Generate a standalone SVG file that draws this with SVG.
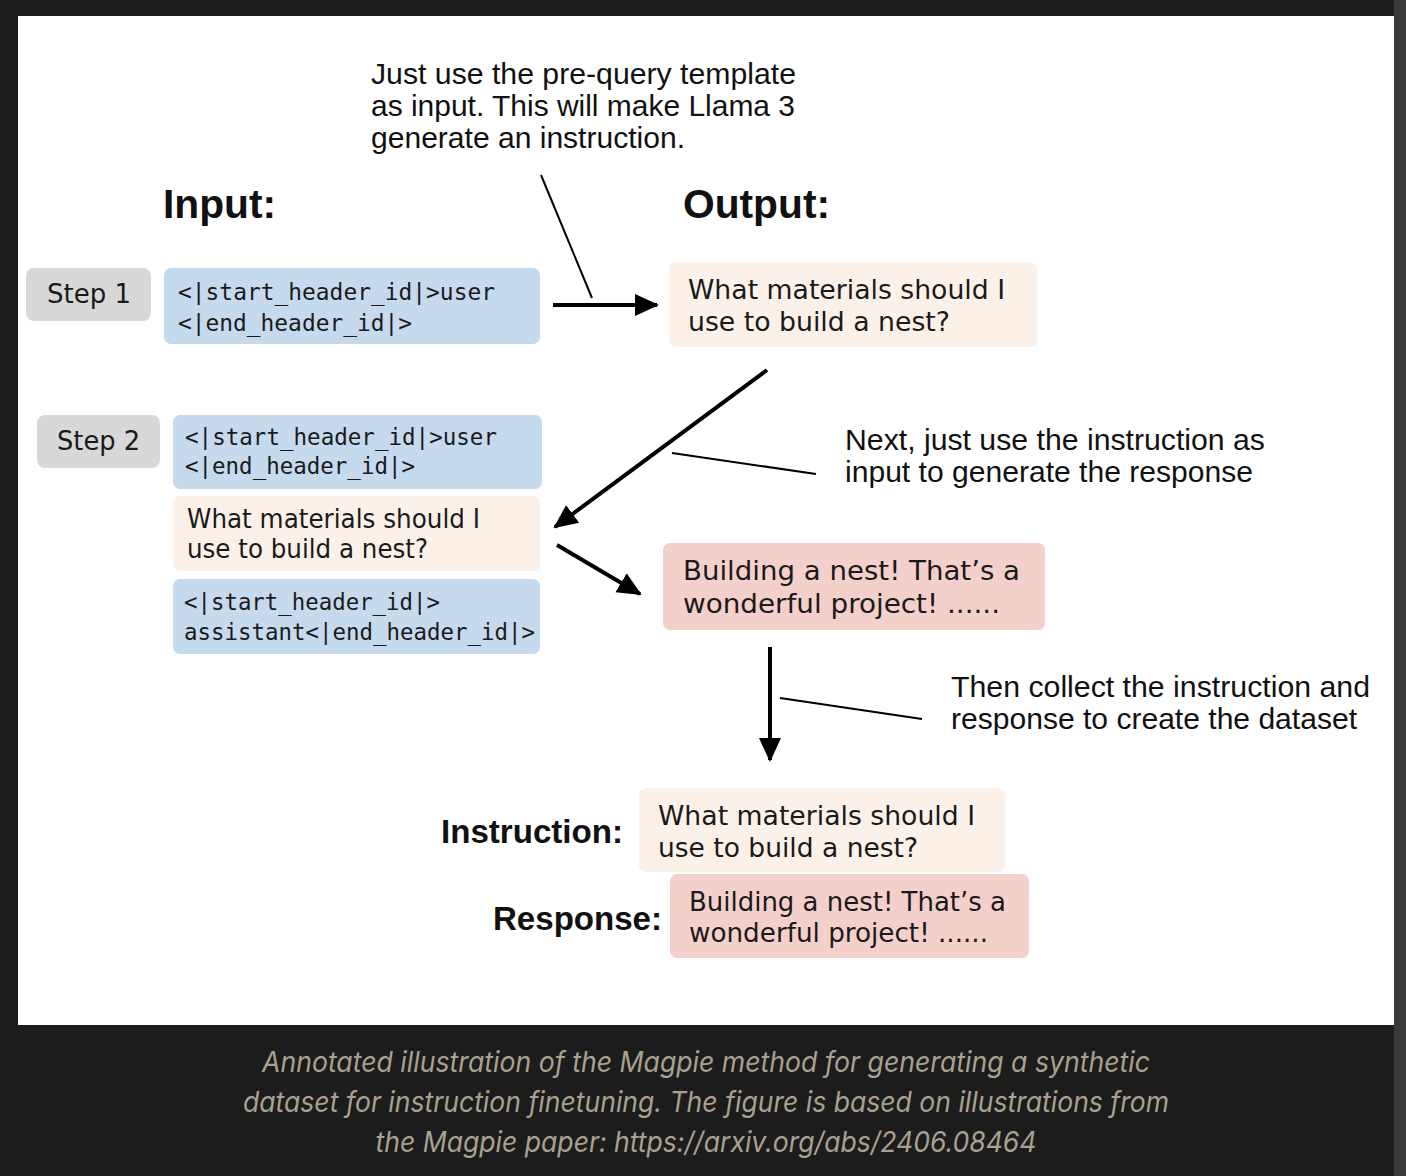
<svg xmlns="http://www.w3.org/2000/svg" width="1406" height="1176" viewBox="0 0 1406 1176">
<style>
.ann{font-family:"Liberation Sans",Arial,sans-serif;font-size:29px;fill:#111}
.hd{font-family:"Liberation Sans",Arial,sans-serif;font-size:40px;font-weight:bold;fill:#111}
.dv{font-family:"DejaVu Sans",Verdana,sans-serif;font-size:26px;fill:#1a1a1a}
.mono{font-family:"DejaVu Sans Mono","Liberation Mono",monospace;font-size:23px;fill:#1a1a1a}
.cap{font-family:Inter,"Open Sans",sans-serif;font-style:italic;font-size:28px;fill:#a9a190}
.blue{fill:#c6daee}
.peach{fill:#fcf1e8}
.red{fill:#f4d0cb}
.gray{fill:#d8d8d8}
.conn{stroke:#000;fill:none}
</style>
<defs>
<marker id="ah" markerUnits="userSpaceOnUse" markerWidth="24" markerHeight="24" viewBox="0 0 24 24" refX="22" refY="12" orient="auto">
<path d="M0,1 L24,12 L0,23 Z" fill="#000"/>
</marker>
</defs>
<rect x="0" y="0" width="1406" height="1176" fill="#1c1c1c"/>
<rect x="1394" y="0" width="12" height="1176" fill="#3a3a3a"/>
<rect x="18" y="16" width="1376" height="1009" fill="#ffffff"/>

<g id="annotation-top">
<text class="ann" x="371" y="84" textLength="425" lengthAdjust="spacingAndGlyphs">Just use the pre-query template</text>
<text class="ann" x="371" y="116" textLength="424" lengthAdjust="spacingAndGlyphs">as input. This will make Llama 3</text>
<text class="ann" x="371" y="148" textLength="314" lengthAdjust="spacingAndGlyphs">generate an instruction.</text>
</g>
<g id="label-input"><text class="hd" x="163" y="218" textLength="113" lengthAdjust="spacingAndGlyphs">Input:</text></g>
<g id="label-output"><text class="hd" x="683" y="218" textLength="147" lengthAdjust="spacingAndGlyphs">Output:</text></g>

<g id="step1">
<rect class="gray" x="26" y="268" width="125" height="53" rx="8"/>
<text class="dv" x="47" y="303" textLength="84" lengthAdjust="spacingAndGlyphs">Step 1</text>
</g>
<g id="step1-input">
<rect class="blue" x="164" y="268" width="376" height="76" rx="7"/>
<text class="mono" x="178" y="300" textLength="317" lengthAdjust="spacingAndGlyphs">&lt;|start_header_id|&gt;user</text>
<text class="mono" x="178" y="331" textLength="234" lengthAdjust="spacingAndGlyphs">&lt;|end_header_id|&gt;</text>
</g>
<g id="step1-output">
<rect class="peach" x="669" y="262" width="368" height="85" rx="7"/>
<text class="dv" x="688" y="299" textLength="317" lengthAdjust="spacingAndGlyphs">What materials should I</text>
<text class="dv" x="688" y="331" textLength="262" lengthAdjust="spacingAndGlyphs">use to build a nest?</text>
</g>

<g id="step2">
<rect class="gray" x="37" y="415" width="123" height="53" rx="8"/>
<text class="dv" x="57" y="450" textLength="83" lengthAdjust="spacingAndGlyphs">Step 2</text>
</g>
<g id="step2-header">
<rect class="blue" x="173" y="415" width="369" height="74" rx="7"/>
<text class="mono" x="185" y="445" textLength="312" lengthAdjust="spacingAndGlyphs">&lt;|start_header_id|&gt;user</text>
<text class="mono" x="185" y="474" textLength="230" lengthAdjust="spacingAndGlyphs">&lt;|end_header_id|&gt;</text>
</g>
<g id="step2-instruction">
<rect class="peach" x="173" y="496" width="367" height="75" rx="7"/>
<text class="dv" x="187" y="528" textLength="293" lengthAdjust="spacingAndGlyphs">What materials should I</text>
<text class="dv" x="187" y="558" textLength="241" lengthAdjust="spacingAndGlyphs">use to build a nest?</text>
</g>
<g id="step2-assistant">
<rect class="blue" x="173" y="579" width="367" height="75" rx="7"/>
<text class="mono" x="184" y="610" textLength="256" lengthAdjust="spacingAndGlyphs">&lt;|start_header_id|&gt;</text>
<text class="mono" x="184" y="640" textLength="351" lengthAdjust="spacingAndGlyphs">assistant&lt;|end_header_id|&gt;</text>
</g>

<g id="annotation-next">
<text class="ann" x="845" y="450" textLength="420" lengthAdjust="spacingAndGlyphs">Next, just use the instruction as</text>
<text class="ann" x="845" y="482" textLength="408" lengthAdjust="spacingAndGlyphs">input to generate the response</text>
</g>
<g id="step2-output">
<rect class="red" x="663" y="543" width="382" height="87" rx="7"/>
<text class="dv" x="683" y="580" textLength="337" lengthAdjust="spacingAndGlyphs">Building a nest! That’s a</text>
<text class="dv" x="683" y="613" textLength="317" lengthAdjust="spacingAndGlyphs">wonderful project! ......</text>
</g>

<g id="annotation-collect">
<text class="ann" x="951" y="697" textLength="419" lengthAdjust="spacingAndGlyphs">Then collect the instruction and</text>
<text class="ann" x="951" y="729" textLength="406" lengthAdjust="spacingAndGlyphs">response to create the dataset</text>
</g>

<g id="label-instruction"><text class="hd" x="441" y="843" textLength="182" lengthAdjust="spacingAndGlyphs" style="font-size:34px">Instruction:</text></g>
<g id="dataset-instruction">
<rect class="peach" x="639" y="788" width="366" height="84" rx="7"/>
<text class="dv" x="658" y="825" textLength="317" lengthAdjust="spacingAndGlyphs">What materials should I</text>
<text class="dv" x="658" y="857" textLength="260" lengthAdjust="spacingAndGlyphs">use to build a nest?</text>
</g>
<g id="label-response"><text class="hd" x="493" y="930" textLength="169" lengthAdjust="spacingAndGlyphs" style="font-size:34px">Response:</text></g>
<g id="dataset-response">
<rect class="red" x="670" y="874" width="359" height="84" rx="7"/>
<text class="dv" x="689" y="911" textLength="317" lengthAdjust="spacingAndGlyphs">Building a nest! That’s a</text>
<text class="dv" x="689" y="942" textLength="299" lengthAdjust="spacingAndGlyphs">wonderful project! ......</text>
</g>

<g id="connectors">
<line class="conn" x1="541" y1="175" x2="592" y2="298" stroke-width="2"/>
<line class="conn" x1="553" y1="305" x2="657" y2="305" stroke-width="4" marker-end="url(#ah)"/>
<line class="conn" x1="767" y1="370" x2="555" y2="527" stroke-width="4" marker-end="url(#ah)"/>
<line class="conn" x1="672" y1="453" x2="816" y2="474" stroke-width="2"/>
<line class="conn" x1="557" y1="545" x2="640" y2="594" stroke-width="4" marker-end="url(#ah)"/>
<line class="conn" x1="770" y1="647" x2="770" y2="760" stroke-width="4" marker-end="url(#ah)"/>
<line class="conn" x1="780" y1="698" x2="922" y2="719" stroke-width="2"/>
</g>

<g id="caption">
<text class="cap" x="706" y="1072" text-anchor="middle" textLength="888" lengthAdjust="spacingAndGlyphs">Annotated illustration of the Magpie method for generating a synthetic</text>
<text class="cap" x="706" y="1112" text-anchor="middle" textLength="926" lengthAdjust="spacingAndGlyphs">dataset for instruction finetuning. The figure is based on illustrations from</text>
<text class="cap" x="706" y="1152" text-anchor="middle" textLength="661" lengthAdjust="spacingAndGlyphs">the Magpie paper: https://arxiv.org/abs/2406.08464</text>
</g>
</svg>
